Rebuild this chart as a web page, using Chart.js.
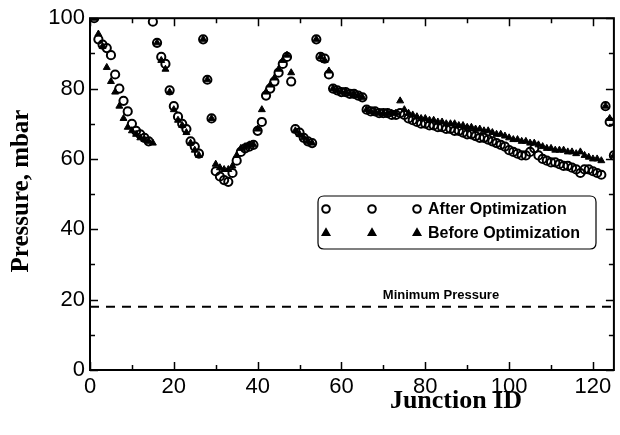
<!DOCTYPE html>
<html>
<head>
<meta charset="utf-8">
<script src="https://cdn.jsdelivr.net/npm/chart.js@4/dist/chart.umd.min.js"></script>
<style>
  html, body { margin: 0; padding: 0; background: #fff; }
  #wrap { width: 620px; height: 435px; }
</style>
</head>
<body>
<div id="wrap"><canvas id="c" width="620" height="435"></canvas></div>
<script>
// ---- data ----
const junctionIds = [1,2,3,4,5,6,7,8,9,10,11,12,13,14,15,16,17,18,19,20,
  21,22,23,24,25,26,27,28,29,30,31,32,33,34,35,36,37,38,39,40,
  41,42,43,44,45,46,47,48,49,50,51,52,53,54,55,56,57,58,59,60,
  61,62,63,64,65,66,67,68,69,70,71,72,73,74,75,76,77,78,79,80,
  81,82,83,84,85,86,87,88,89,90,91,92,93,94,95,96,97,98,99,100,
  101,102,103,104,105,106,107,108,109,110,111,112,113,114,115,116,117,118,119,120,
  121,122,123,124,125];

const afterOptimization = [100,94,92.5,91.5,89.5,84,80,76.5,73.5,70,
  68,67,66,65,99,93,89,87,79.5,75,
  72,70,68.5,65,63.5,61.5,94,82.5,71.5,56.5,
  55,54,53.5,56,59.5,62,63,63.5,64,68,
  70.5,78,80,82,84.5,87,89,82,68.5,67.5,
  66,65,64.5,94,89,88.5,84,80,79.5,79,
  79,78.5,78.5,78,77.5,74,73.5,73.5,73,73,
  73,72.5,72.5,73,72.5,71.5,71,70.5,70,70,
  69.5,69.5,69,69,68.5,68.5,68,68,67.5,67,
  67,66.5,66,66,65.5,65,64.5,64,63.5,62.5,
  62,61.5,61,61,62,63,61,60,59.5,59,
  59,58.5,58,58,57.5,57,56,57,57,56.5,
  56,55.5,75,70.5,61];

const beforeOptimization = [100,95.5,92,86,82,79,75,71.5,69,68,
  67,66,65.5,65,64.5,93,88,85.5,79,74,
  71,69.5,67.5,64.5,62.5,61,94,82.5,71.5,58.5,
  57.5,57,57,58,61,63,63.5,64,64,68.5,
  74,79,81,83,85.5,88,89.5,84.5,68,67,
  66,65,64.5,94,89,88,85,80,79.5,79,
  79,78.5,78.5,78,77.5,74,73.5,73.5,73,73,
  73,73,73,76.5,74,73,72.5,72,71.5,71.5,
  71,71,70.5,70.5,70,70,70,69.5,69.5,69,
  69,68.5,68.5,68,68,67.5,67,67,66.5,66,
  65.5,65.5,65,65,64.5,64.5,64,63.5,63,63,
  62.5,62.5,62.5,62,62,61.5,62,61,60.5,60,
  60,59.5,75,71.5,61];

const minimumPressure = 18;
const xTickLabels = [0,20,40,60,80,100,120];
const yTickLabels = [0,20,40,60,80,100];
const xMinorTicks = [0,10,20,30,40,50,60,70,80,90,100,110,120];
const yMinorTicks = [0,10,20,30,40,50,60,70,80,90,100];
const xRange = [0,125];
const yRange = [0,100];

// ---- build ----
const afterPts = junctionIds.map((id,i)=>({x:id, y:afterOptimization[i]}));
const beforePts = junctionIds.map((id,i)=>({x:id, y:beforeOptimization[i]}));

const decor = {
  id: 'decor',
  afterDraw(chart) {
    const ctx = chart.ctx;
    const a = chart.chartArea;
    const xs = chart.scales.x, ys = chart.scales.y;
    ctx.save();
    ctx.strokeStyle = '#000';
    ctx.fillStyle = '#000';
    // frame
    ctx.lineWidth = 2;
    ctx.strokeRect(a.left, a.top, a.right - a.left, a.bottom - a.top);
    // ticks inward
    ctx.lineWidth = 1.5;
    ctx.beginPath();
    xMinorTicks.forEach(v => {
      const px = Math.round(xs.getPixelForValue(v)) + 0.5;
      const len = v % 20 === 0 ? 8 : 5;
      ctx.moveTo(px, a.bottom); ctx.lineTo(px, a.bottom - len);
      ctx.moveTo(px, a.top); ctx.lineTo(px, a.top + len);
    });
    yMinorTicks.forEach(v => {
      const py = Math.round(ys.getPixelForValue(v)) + 0.5;
      const len = v % 20 === 0 ? 8 : 5;
      ctx.moveTo(a.left, py); ctx.lineTo(a.left + len, py);
      ctx.moveTo(a.right, py); ctx.lineTo(a.right - len, py);
    });
    ctx.stroke();

    // axis titles
    ctx.font = 'bold 26px "Liberation Serif", "Times New Roman", serif';
    ctx.textAlign = 'center';
    ctx.textBaseline = 'middle';
    ctx.fillText('Junction ID', 456, 401);
    ctx.save();
    ctx.translate(22, 191);
    ctx.rotate(-Math.PI / 2);
    ctx.font = 'bold 25px "Liberation Serif", "Times New Roman", serif';
    ctx.fillText('Pressure, mbar', 0, 0);
    ctx.restore();

    // minimum pressure label
    ctx.font = 'bold 13px "Liberation Sans", Arial, sans-serif';
    ctx.fillText('Minimum Pressure', 441, 295);

    // legend box
    const bx = 318, by = 196, bw = 278, bh = 53, r = 6;
    ctx.lineWidth = 1.2;
    ctx.beginPath();
    ctx.moveTo(bx + r, by);
    ctx.lineTo(bx + bw - r, by);
    ctx.quadraticCurveTo(bx + bw, by, bx + bw, by + r);
    ctx.lineTo(bx + bw, by + bh - r);
    ctx.quadraticCurveTo(bx + bw, by + bh, bx + bw - r, by + bh);
    ctx.lineTo(bx + r, by + bh);
    ctx.quadraticCurveTo(bx, by + bh, bx, by + bh - r);
    ctx.lineTo(bx, by + r);
    ctx.quadraticCurveTo(bx, by, bx + r, by);
    ctx.stroke();
    const mx = [326, 372, 417];
    ctx.lineWidth = 2;
    mx.forEach(x => {
      ctx.beginPath(); ctx.arc(x, 209, 3.8, 0, Math.PI * 2); ctx.stroke();
      Chart.helpers.drawPoint(ctx, {pointStyle:'triangle', radius:3.8, borderWidth:1}, x, 233);
      ctx.fill();
    });
    ctx.font = 'bold 16px "Liberation Sans", Arial, sans-serif';
    ctx.textAlign = 'left';
    ctx.fillText('After Optimization', 428, 210);
    ctx.fillText('Before Optimization', 428, 234);
    ctx.restore();
  }
};

new Chart(document.getElementById('c'), {
  type: 'scatter',
  data: {
    datasets: [
      {
        label: 'After Optimization',
        data: afterPts,
        pointStyle: 'circle',
        pointRadius: 4.1,
        pointBorderWidth: 2,
        borderColor: '#000',
        backgroundColor: 'rgba(0,0,0,0)',
        pointBackgroundColor: 'rgba(0,0,0,0)',
        order: 2
      },
      {
        label: 'Before Optimization',
        data: beforePts,
        pointStyle: 'triangle',
        pointRadius: 4,
        pointBorderWidth: 1,
        borderColor: '#000',
        backgroundColor: '#000',
        pointBackgroundColor: '#000',
        order: 1
      },
      {
        type: 'line',
        label: 'Minimum Pressure',
        data: [{x:xRange[0], y:minimumPressure}, {x:xRange[1], y:minimumPressure}],
        borderColor: '#000',
        borderWidth: 2,
        borderDash: [9, 7],
        pointRadius: 0,
        fill: false,
        order: 3
      }
    ]
  },
  options: {
    responsive: false,
    animation: false,
    devicePixelRatio: 1,
    layout: { padding: { top: 17, right: 6, left: 0, bottom: 0 } },
    plugins: { legend: { display: false }, tooltip: { enabled: false } },
    scales: {
      x: {
        type: 'linear',
        min: xRange[0], max: xRange[1],
        afterBuildTicks: s => { s.ticks = xTickLabels.map(v => ({ value: v })); },
        afterFit: s => { s.height = 65; },
        grid: { display: false, drawTicks: false },
        border: { display: false },
        ticks: { padding: 4, color: '#000', font: { family: '"Liberation Sans", Arial, sans-serif', size: 22 }, maxRotation: 0 }
      },
      y: {
        type: 'linear',
        min: yRange[0], max: yRange[1],
        afterBuildTicks: s => { s.ticks = yTickLabels.map(v => ({ value: v })); },
        afterFit: s => { s.width = 90; },
        grid: { display: false, drawTicks: false },
        border: { display: false },
        ticks: { padding: 5, color: '#000', font: { family: '"Liberation Sans", Arial, sans-serif', size: 22 } }
      }
    }
  },
  plugins: [decor]
});
</script>
</body>
</html>
